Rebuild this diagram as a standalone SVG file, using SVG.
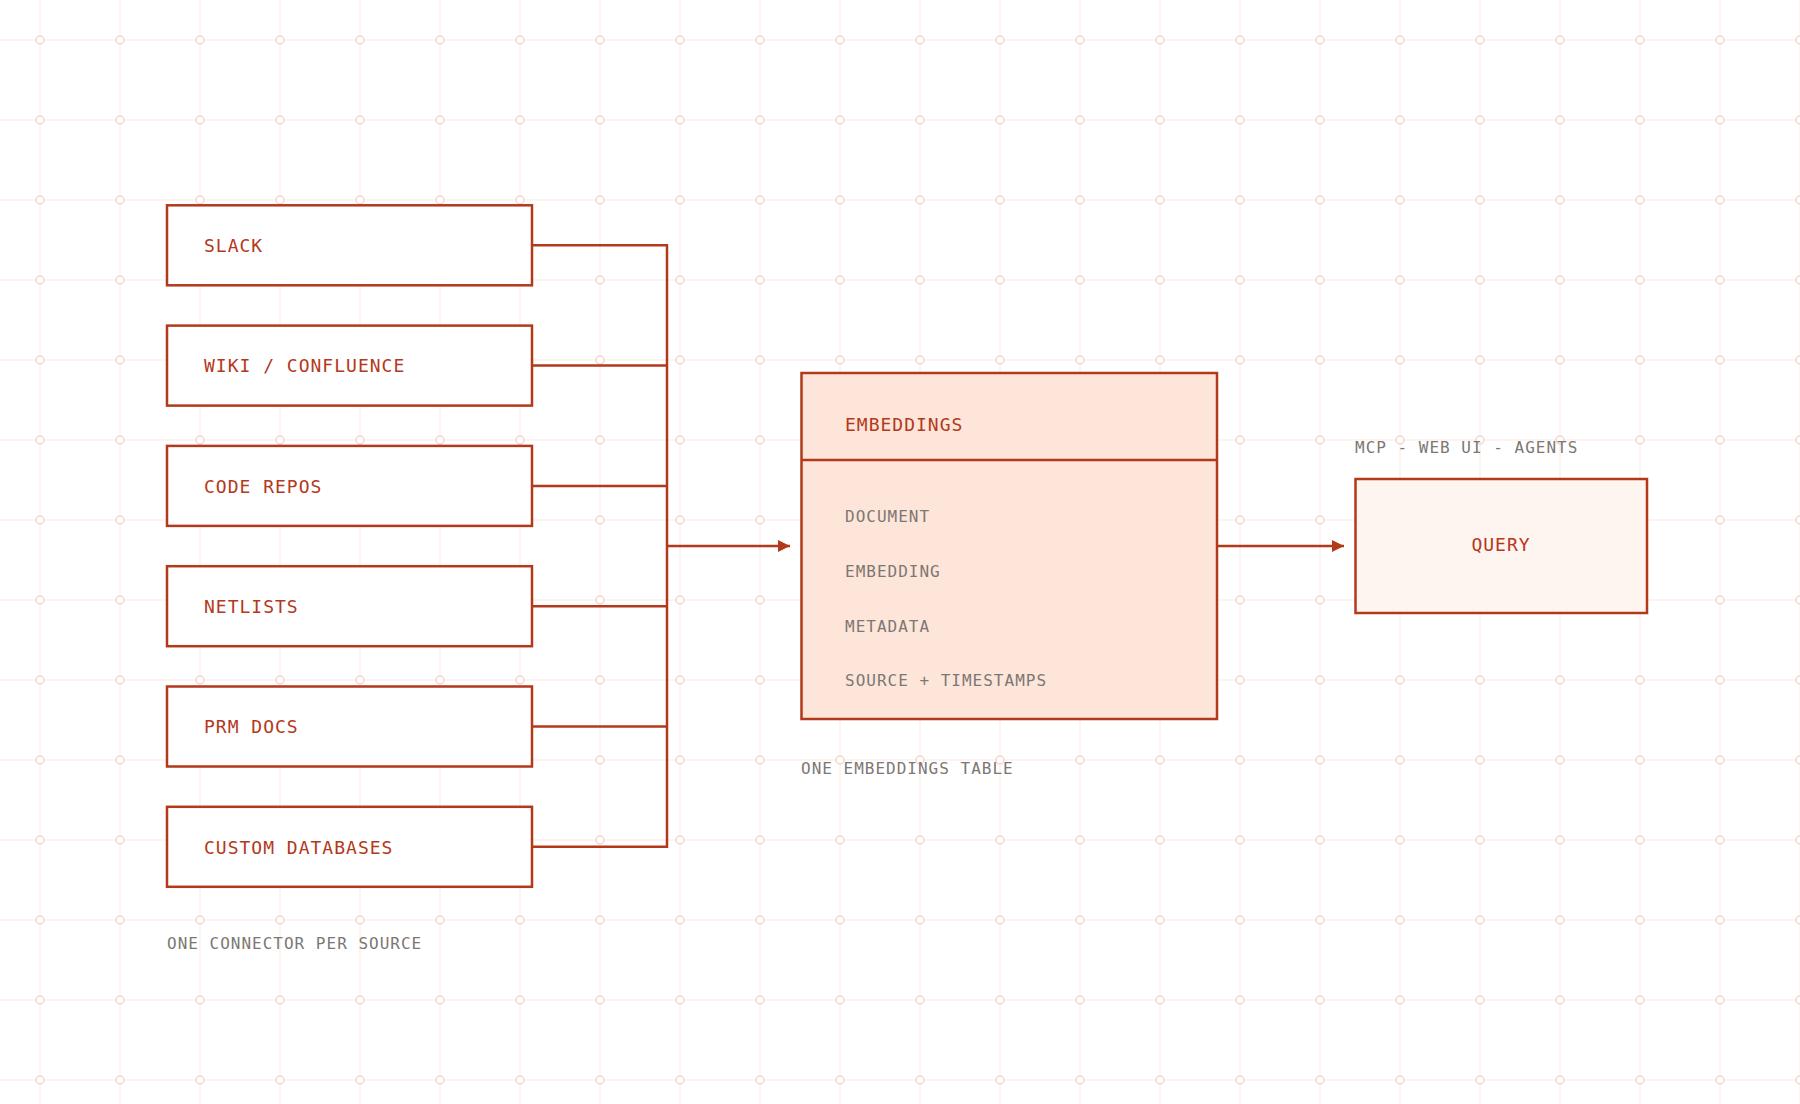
<svg xmlns="http://www.w3.org/2000/svg" width="1800" height="1104" viewBox="0 0 1800 1104">
<style>
.box{fill:#ffffff;stroke:#b3391b;stroke-width:2.5}
.emb{fill:#fde5da;stroke:#b3391b;stroke-width:2.5}
.qry{fill:#fef4f0;stroke:#b3391b;stroke-width:2.5}
.lbl{font-family:"DejaVu Sans Mono","Liberation Mono",monospace;font-size:18px;letter-spacing:1px;fill:#b3391b}
.sub{font-family:"DejaVu Sans Mono","Liberation Mono",monospace;font-size:16px;letter-spacing:1px;fill:#7d7773}
.conn{fill:none;stroke:#b3391b;stroke-width:2.5}
</style>
<defs>
<pattern id="grid" x="0" y="0" width="80" height="80" patternUnits="userSpaceOnUse">
<line x1="40" y1="0" x2="40" y2="80" stroke="#fcefea" stroke-width="1.5"/>
<line x1="0" y1="40" x2="80" y2="40" stroke="#fcefea" stroke-width="1.5"/>
<circle cx="40" cy="40" r="4" fill="#ffffff" stroke="#f0d6cd" stroke-width="1.5"/>
</pattern>
<marker id="arr" markerWidth="12" markerHeight="12" refX="10" refY="5" orient="auto" markerUnits="userSpaceOnUse" viewBox="0 0 10 10">
<path d="M0,0 L10,5 L0,10 Z" fill="#b3391b"/>
</marker>
</defs>
<rect width="1800" height="1104" fill="#ffffff"/>
<rect width="1800" height="1104" fill="url(#grid)"/>

<g id="connectors">
<line class="conn" x1="532" y1="245.3" x2="667" y2="245.3"/>
<line class="conn" x1="532" y1="365.6" x2="667" y2="365.6"/>
<line class="conn" x1="532" y1="485.9" x2="667" y2="485.9"/>
<line class="conn" x1="532" y1="606.2" x2="667" y2="606.2"/>
<line class="conn" x1="532" y1="726.5" x2="667" y2="726.5"/>
<line class="conn" x1="532" y1="846.8" x2="667" y2="846.8"/>
<line class="conn" x1="667" y1="244" x2="667" y2="848"/>
<line class="conn" x1="667" y1="546" x2="790" y2="546" marker-end="url(#arr)"/>
<line class="conn" x1="1217" y1="546" x2="1344" y2="546" marker-end="url(#arr)"/>
</g>

<g id="slack"><rect class="box" x="167" y="205.3" width="365" height="80"/><text class="lbl" x="204" y="252">SLACK</text></g>
<g id="wiki"><rect class="box" x="167" y="325.6" width="365" height="80"/><text class="lbl" x="204" y="372.3">WIKI / CONFLUENCE</text></g>
<g id="code-repos"><rect class="box" x="167" y="445.9" width="365" height="80"/><text class="lbl" x="204" y="492.6">CODE REPOS</text></g>
<g id="netlists"><rect class="box" x="167" y="566.2" width="365" height="80"/><text class="lbl" x="204" y="612.9">NETLISTS</text></g>
<g id="prm-docs"><rect class="box" x="167" y="686.5" width="365" height="80"/><text class="lbl" x="204" y="733.2">PRM DOCS</text></g>
<g id="custom-db"><rect class="box" x="167" y="806.8" width="365" height="80"/><text class="lbl" x="204" y="853.5">CUSTOM DATABASES</text></g>
<text class="sub" x="167" y="949">ONE CONNECTOR PER SOURCE</text>

<g id="embeddings">
<rect class="emb" x="801.5" y="373" width="415.5" height="346"/>
<line class="conn" x1="801.5" y1="460" x2="1217" y2="460"/>
<text class="lbl" x="845" y="431">EMBEDDINGS</text>
<text class="sub" x="845" y="522">DOCUMENT</text>
<text class="sub" x="845" y="577">EMBEDDING</text>
<text class="sub" x="845" y="632">METADATA</text>
<text class="sub" x="845" y="686">SOURCE + TIMESTAMPS</text>
</g>
<text class="sub" x="801" y="774">ONE EMBEDDINGS TABLE</text>

<g id="query">
<rect class="qry" x="1355.5" y="479" width="291.5" height="134"/>
<text class="lbl" x="1501" y="551" text-anchor="middle">QUERY</text>
</g>
<text class="sub" x="1355" y="453">MCP - WEB UI - AGENTS</text>
</svg>
